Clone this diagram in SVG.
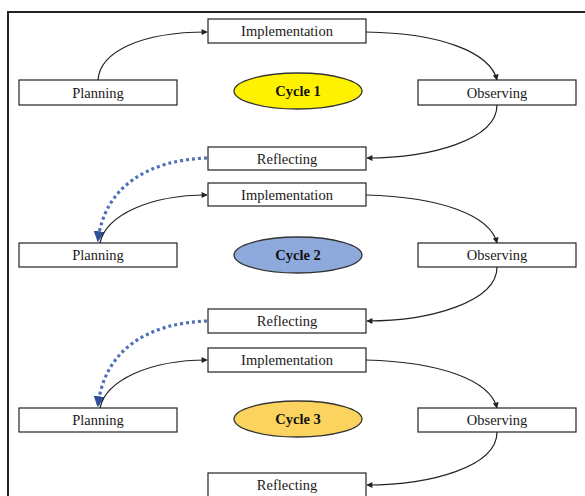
<svg xmlns="http://www.w3.org/2000/svg" width="585" height="496" viewBox="0 0 585 496">
<style>
.box{fill:#fff;stroke:#222;stroke-width:1.2}
.lbl{font-family:"Liberation Serif","Times New Roman",serif;font-size:14.5px;fill:#1a1a1a;text-anchor:middle;dominant-baseline:central}
.cyc{font-family:"Liberation Serif","Times New Roman",serif;font-size:14.5px;font-weight:bold;fill:#111;text-anchor:middle;dominant-baseline:central}
.ell{stroke:#333;stroke-width:1.3}
.con{fill:none;stroke:#222;stroke-width:1.2;marker-end:url(#ah)}
.dot{fill:none;stroke:#4f73b8;stroke-width:3.2;stroke-dasharray:3 3;marker-end:url(#bh)}
</style>
<defs>
<marker id="ah" viewBox="0 0 10 10" refX="9" refY="5" markerWidth="7" markerHeight="6" markerUnits="userSpaceOnUse" orient="auto">
<path d="M0,0 L10,5 L0,10 z" fill="#222"/>
</marker>
<marker id="bh" viewBox="0 0 10 10" refX="8" refY="5" markerWidth="11" markerHeight="11" markerUnits="userSpaceOnUse" orient="auto">
<path d="M0,0 L10,5 L0,10 z" fill="#2f4f9a"/>
</marker>
</defs>
<rect x="0" y="0" width="585" height="496" fill="#fff"/>
<rect x="8" y="12" width="600" height="520" fill="none" stroke="#222" stroke-width="2"/>

<g id="connectors">
<path class="con" d="M98,80 C100,52 140,32 207,32"/>
<path class="con" d="M366,32 C440,33 490,52 497,80"/>
<path class="con" d="M497,105 C497,140 430,158 367,158"/>
<path class="dot" d="M207,158 C150,160 105,185 98,240"/>
<path class="con" d="M100,243 C106,215 150,195 207,195"/>
<path class="con" d="M366,195 C440,197 490,215 497,243"/>
<path class="con" d="M497,267 C497,302 430,321 367,321"/>
<path class="dot" d="M207,321 C150,323 105,348 98,405"/>
<path class="con" d="M100,408 C106,380 150,360 207,360"/>
<path class="con" d="M366,360 C440,362 490,380 497,408"/>
<path class="con" d="M497,432 C497,467 430,485 367,485"/>
</g>

<g id="impl1"><rect class="box" x="208" y="19" width="158" height="24"/><text class="lbl" x="287" y="31">Implementation</text></g>
<g id="plan1"><rect class="box" x="19" y="80" width="158" height="25"/><text class="lbl" x="98" y="92.5">Planning</text></g>
<g id="obs1"><rect class="box" x="418" y="80" width="158" height="25"/><text class="lbl" x="497" y="92.5">Observing</text></g>
<g id="refl1"><rect class="box" x="208" y="147" width="158" height="23"/><text class="lbl" x="287" y="158.5">Reflecting</text></g>
<g id="cycle1"><ellipse class="ell" cx="298" cy="91" rx="64" ry="18" fill="#fff200"/><text class="cyc" x="298" y="91">Cycle 1</text></g>

<g id="impl2"><rect class="box" x="208" y="183" width="158" height="23"/><text class="lbl" x="287" y="194.5">Implementation</text></g>
<g id="plan2"><rect class="box" x="19" y="243" width="158" height="24"/><text class="lbl" x="98" y="255">Planning</text></g>
<g id="obs2"><rect class="box" x="418" y="243" width="158" height="24"/><text class="lbl" x="497" y="255">Observing</text></g>
<g id="refl2"><rect class="box" x="208" y="309" width="158" height="24"/><text class="lbl" x="287" y="321">Reflecting</text></g>
<g id="cycle2"><ellipse class="ell" cx="298" cy="255" rx="64" ry="18" fill="#8eaadc"/><text class="cyc" x="298" y="255">Cycle 2</text></g>

<g id="impl3"><rect class="box" x="208" y="348" width="158" height="24"/><text class="lbl" x="287" y="360">Implementation</text></g>
<g id="plan3"><rect class="box" x="19" y="408" width="158" height="24"/><text class="lbl" x="98" y="420">Planning</text></g>
<g id="obs3"><rect class="box" x="418" y="408" width="158" height="24"/><text class="lbl" x="497" y="420">Observing</text></g>
<g id="refl3"><rect class="box" x="208" y="473" width="158" height="24"/><text class="lbl" x="287" y="485">Reflecting</text></g>
<g id="cycle3"><ellipse class="ell" cx="298" cy="419" rx="64" ry="18" fill="#fbd35e"/><text class="cyc" x="298" y="419">Cycle 3</text></g>
</svg>
